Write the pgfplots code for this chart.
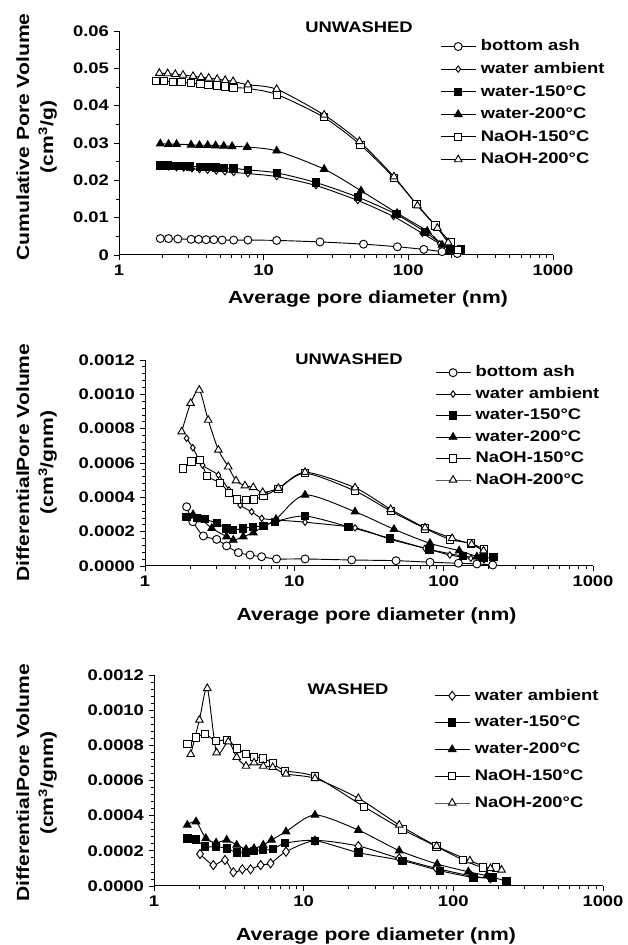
\documentclass[border=0pt]{standalone}
\usepackage{fontspec}
\setmainfont{Liberation Sans}[FakeStretch=1.2]
\usepackage{pgfplots}
\pgfplotsset{compat=1.18}

\newcommand{\lf}{\bfseries\fontsize{11.5}{13}\selectfont}

\tikzset{
  ash/.style={mark=*, mark size=3pt, mark options={fill=white}},
  amb/.style={mark=diamond*, mark size=2.4pt, mark options={fill=white}},
  wa/.style={mark=square*, mark size=2.75pt, mark options={fill=black}},
  wb/.style={mark=triangle*, mark size=3.3pt, mark options={fill=black}},
  na/.style={mark=square*, mark size=2.75pt, mark options={fill=white}},
  nb/.style={mark=triangle*, mark size=3.3pt, mark options={fill=white}},
}
\pgfplotsset{
  every axis/.append style={
    scale only axis,
    clip=false,
    xmin=1, xmax=1000,
    xtick={1,10,100,1000}, xticklabels={1,10,100,1000},
    minor xtick={2,3,4,5,6,7,8,9,20,30,40,50,60,70,80,90,200,300,400,500,600,700,800,900},
    axis x line*=bottom, axis y line*=left,
    axis line style={-, line width=0.75pt},
    tick align=outside,
    major tick length=4pt, minor tick length=2.2pt,
    tick style={black, line width=0.6pt},
    scaled y ticks=false,
    tick label style={font=\bfseries\fontsize{11.5}{13}\selectfont},
    legend style={draw=none, fill=none, inner sep=0pt, anchor=north west,
      font=\lf,
      nodes={inner sep=0.5pt, text height=8.5pt, text depth=2pt},
      /tikz/every odd column/.append style={column sep=3pt}},
    legend cell align=left,
    legend image code/.code={\draw[mark repeat=2,mark phase=2] plot coordinates {(0pt,0pt) (13.1pt,0pt) (26.2pt,0pt)};},
  },
  every axis plot/.append style={black, line width=0.7pt, smooth, tension=0.45},
}

\begin{document}
\begin{tikzpicture}
\path (0,0) rectangle (469.5pt,708.75pt);

% cumulative, unwashed
\begin{semilogxaxis}[
  at={(89.25pt,517.5pt)}, anchor=south west,
  width=325.5pt, height=168pt,
  ymin=0, ymax=0.06,
  ytick={0,0.01,0.02,0.03,0.04,0.05,0.06},
  yticklabels={0,0.01,0.02,0.03,0.04,0.05,0.06},
  minor y tick num=1,
  legend style={at={(0.7396,0.966)}, row sep=5.45pt},
]
\addplot[ash] coordinates {(1.93,0.0044) (2.2,0.0044) (2.55,0.0043) (3.15,0.0042) (3.55,0.0042) (4.0,0.0041) (4.52,0.0041) (5.16,0.0040) (6.2,0.0040) (7.78,0.0040) (12.3,0.0039) (24.5,0.0035) (49,0.0029) (84,0.0022) (128,0.0015) (171,0.0009) (218,0.0004)};
\addplot[amb] coordinates {(1.91,0.0237) (2.2,0.0236) (2.5,0.0234) (2.8,0.0233) (3.2,0.0231) (3.6,0.0229) (4.1,0.0227) (4.7,0.0225) (5.4,0.0223) (6.2,0.0221) (7.78,0.0218) (12.3,0.0210) (23,0.0186) (44.7,0.0146) (79,0.0103) (125,0.0058) (165,0.0030) (200,0.0012)};
\addplot[wa] coordinates {(1.91,0.0240) (2.17,0.0240) (2.5,0.0239) (2.8,0.0238) (3.1,0.0237) (3.65,0.0236) (4.15,0.0235) (4.7,0.0234) (5.3,0.0233) (6.2,0.0232) (7.78,0.0228) (12.3,0.0220) (23,0.0194) (44.7,0.0155) (82.6,0.0109) (130,0.0062) (194,0.0015) (231,0.0015)};
\addplot[wb] coordinates {(1.93,0.0298) (2.2,0.0297) (2.5,0.0297) (3.15,0.0295) (3.6,0.0294) (4.1,0.0294) (4.65,0.0293) (5.3,0.0292) (6.05,0.0291) (7.7,0.0289) (12.3,0.0279) (26.2,0.0230) (47.1,0.0172) (83.6,0.0112) (135,0.0064) (171,0.0027)};
\addplot[na] coordinates {(1.81,0.0467) (2.05,0.0466) (2.35,0.0464) (2.7,0.0463) (3.16,0.0460) (3.65,0.0458) (4.15,0.0456) (4.77,0.0454) (5.42,0.0451) (6.2,0.0448) (7.78,0.0446) (12.3,0.0430) (26,0.0369) (46.6,0.0295) (79.5,0.0207) (113.6,0.0137) (154,0.0079) (195.7,0.0034) (221,0.0013)};
\addplot[nb] coordinates {(1.9,0.0487) (2.17,0.0486) (2.45,0.0484) (2.77,0.0482) (3.25,0.0479) (3.69,0.0476) (4.17,0.0474) (4.77,0.0471) (5.42,0.0468) (6.15,0.0465) (7.78,0.0456) (12.3,0.0444) (26.2,0.0375) (45.9,0.0304) (79.5,0.0210) (115.6,0.0132) (158.8,0.0072) (188.6,0.0033)};
\legend{bottom ash, water ambient, water-150°C, water-200°C, NaOH-150°C, NaOH-200°C}
\end{semilogxaxis}

% differential, unwashed
\begin{semilogxaxis}[
  at={(108.75pt,284.25pt)}, anchor=south west,
  width=336pt, height=154.5pt,
  ymin=0, ymax=0.0012,
  ytick={0,0.0002,0.0004,0.0006,0.0008,0.0010,0.0012},
  yticklabels={0.0000,0.0002,0.0004,0.0006,0.0008,0.0010,0.0012},
  minor y tick num=4,
  legend style={at={(0.647,0.977)}, row sep=4.6pt},
]
\addplot[ash] coordinates {(1.90,0.000345) (2.09,0.000258) (2.46,0.000175) (3.02,0.000155) (3.52,0.000117) (4.22,0.000078) (5.05,0.000064) (6.04,0.000054) (7.6,0.000041) (11.8,0.000041) (24.2,0.000035) (48,0.000031) (81,0.000022) (125.5,0.000016) (167,0.000012) (213,0.000006)};
\addplot[amb] coordinates {(1.90,0.000744) (2.09,0.000689) (2.43,0.000588) (3.10,0.000530) (3.65,0.000443) (4.34,0.000355) (5.18,0.000316) (6.05,0.000278) (7.6,0.000268) (11.8,0.000255) (25.5,0.000222) (44.2,0.000155) (75,0.000103) (110,0.000064) (152,0.000045) (186,0.000035)};
\addplot[wa] coordinates {(1.90,0.000284) (2.22,0.000278) (2.52,0.000272) (3.02,0.000249) (3.52,0.000219) (3.90,0.000210) (4.55,0.000219) (5.31,0.000229) (6.2,0.000233) (7.43,0.000258) (11.8,0.000291) (23.0,0.000229) (43.8,0.000161) (80.2,0.000097) (134,0.000058) (185,0.000045) (215,0.000051)};
\addplot[wb] coordinates {(1.90,0.000280) (2.1,0.000300) (2.4,0.000270) (2.8,0.000220) (3.52,0.000171) (3.9,0.000151) (4.55,0.000171) (5.31,0.000194) (6.2,0.000229) (7.54,0.000272) (11.8,0.000414) (25.5,0.000316) (46.5,0.000214) (81,0.000132) (127,0.000089) (167,0.000054)};
\addplot[na] coordinates {(1.79,0.000569) (2.05,0.000608) (2.34,0.000617) (2.61,0.000524) (3.18,0.000485) (3.65,0.000427) (4.11,0.000388) (4.75,0.000384) (5.37,0.000388) (6.2,0.000408) (7.82,0.000450) (11.8,0.000540) (25.5,0.000437) (44.2,0.000320) (75,0.000219) (110,0.000155) (152,0.000132) (186,0.000097)};
\addplot[nb] coordinates {(1.76,0.000782) (2.02,0.000948) (2.31,0.001025) (2.65,0.000850) (3.10,0.000676) (3.61,0.000578) (4.07,0.000497) (4.67,0.000468) (5.31,0.000458) (6.14,0.000429) (7.82,0.000453) (11.8,0.000546) (25.5,0.000456) (44.2,0.000330) (75,0.000223) (114,0.000161) (154,0.000126) (185,0.000089)};
\legend{bottom ash, water ambient, water-150°C, water-200°C, NaOH-150°C, NaOH-200°C}
\end{semilogxaxis}

% differential, washed
\begin{semilogxaxis}[
  at={(115.5pt,44.25pt)}, anchor=south west,
  width=336.75pt, height=158.25pt,
  ymin=0, ymax=0.0012,
  ytick={0,0.0002,0.0004,0.0006,0.0008,0.0010,0.0012},
  yticklabels={0.0000,0.0002,0.0004,0.0006,0.0008,0.0010,0.0012},
  minor y tick num=4,
  legend style={at={(0.6236,0.939)}, row sep=8.6pt},
]
\addplot[amb, mark size=3.4pt] coordinates {(2.03,0.000182) (2.49,0.000119) (2.98,0.000148) (3.39,0.000078) (3.89,0.000095) (4.42,0.000095) (5.16,0.000119) (6.01,0.000129) (7.62,0.000195) (11.9,0.000258) (23.2,0.000227) (43.5,0.000157) (77.3,0.000100) (132,0.000057) (177,0.000044)};
\addplot[wa] coordinates {(1.67,0.000271) (1.91,0.000265) (2.19,0.000224) (2.6,0.000224) (3.06,0.000214) (3.57,0.000190) (4.12,0.000190) (4.66,0.000201) (5.37,0.000205) (6.21,0.000209) (7.5,0.000243) (11.9,0.000258) (23.2,0.000190) (45.8,0.000144) (81.4,0.000087) (136,0.000049) (183,0.000049) (227,0.000025)};
\addplot[wb] coordinates {(1.67,0.000347) (1.91,0.000366) (2.22,0.000271) (2.6,0.000246) (3.06,0.000262) (3.57,0.000233) (4.12,0.000209) (4.66,0.000214) (5.37,0.000233) (6.1,0.000262) (7.62,0.000309) (11.9,0.000404) (23.2,0.000318) (43.5,0.000201) (78,0.000125) (126,0.000081) (168,0.000059)};
\addplot[na] coordinates {(1.67,0.000806) (1.91,0.000844) (2.19,0.000863) (2.6,0.000825) (3.06,0.000830) (3.57,0.000783) (4.12,0.000751) (4.66,0.000735) (5.37,0.000726) (6.21,0.000698) (7.5,0.000656) (11.9,0.000622) (25.3,0.000451) (45.8,0.000322) (77.3,0.000224) (116,0.000148) (157,0.000106) (193,0.000106)};
\addplot[nb] coordinates {(1.76,0.000749) (2.01,0.000944) (2.27,0.001124) (2.62,0.000758) (3.14,0.000821) (3.57,0.000732) (4.12,0.000682) (4.66,0.000701) (5.37,0.000682) (6.21,0.000675) (7.62,0.000637) (11.9,0.000612) (23.2,0.000499) (43.5,0.000347) (77.3,0.000227) (129,0.000144) (177,0.000100) (210,0.000091)};
\legend{water ambient, water-150°C, water-200°C, NaOH-150°C, NaOH-200°C}
\end{semilogxaxis}

% text placed in pixel coordinates of the 626x945 page
\begin{scope}[x=0.75pt, y=-0.75pt, yshift=708.75pt,
  lab/.style={font=\bfseries\fontsize{13.2}{18}\selectfont, inner sep=0pt},
  ttl/.style={font=\bfseries\fontsize{11.5}{13}\selectfont, inner sep=0pt, anchor=base}]
\node[lab, rotate=90, align=center] at (36.5,137) {Cumulative Pore Volume\\(cm\textsuperscript{3}/g)};
\node[lab, rotate=90, align=center] at (36.5,462.5) {DifferentialPore Volume\\(cm\textsuperscript{3}/gnm)};
\node[lab, rotate=90, align=center] at (36.5,783) {DifferentialPore Volume\\(cm\textsuperscript{3}/gnm)};
\node[lab, anchor=base] at (368,303.3) {Average pore diameter (nm)};
\node[lab, anchor=base] at (376.5,621) {Average pore diameter (nm)};
\node[lab, anchor=base] at (376,940.5) {Average pore diameter (nm)};
\node[ttl] at (359,33) {UNWASHED};
\node[ttl] at (349,365) {UNWASHED};
\node[ttl] at (348,695) {WASHED};
\end{scope}
\end{tikzpicture}
\end{document}
